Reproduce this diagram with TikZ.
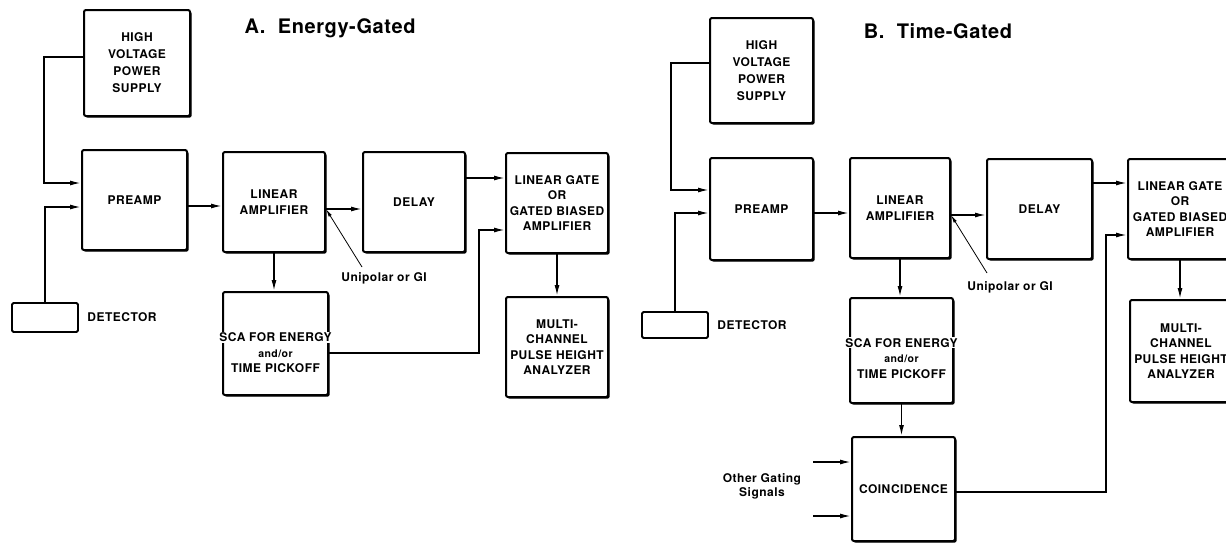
\documentclass[tikz,border=0pt]{standalone}
\usepackage{fontspec}
\setmainfont{TeX Gyre Heros}
\newfontfamily\boxfont[LetterSpace=4]{TeX Gyre Heros}
\newfontfamily\titlefont[LetterSpace=3]{TeX Gyre Heros}
\usepackage{tikz}
\usetikzlibrary{arrows.meta,shadows,positioning}
% a text line that runs over the box border
\newcommand{\spill}[1]{\makebox[60pt]{\setlength\fboxsep{1pt}\colorbox{white}{#1}}}

\begin{document}
\begin{tikzpicture}[x=1pt,y=-1pt,
  blk/.style={draw, line width=2pt, fill=white, rounded corners=2pt,
    minimum height=100pt, inner sep=1pt, align=center,
    font=\boxfont\bfseries\fontsize{12}{15.5}\selectfont,
    drop shadow={shadow xshift=1.6pt, shadow yshift=-1.6pt, fill=black, opacity=1}},
  detbox/.style={draw, line width=1.8pt, rounded corners=1.5pt, minimum width=66pt},
  sig/.style={line width=1.5pt, -{Latex[length=11pt,width=5pt]}},
  ptr/.style={line width=0.8pt, -{Latex[length=8pt,width=3.5pt]}},
  lbl/.style={font=\boxfont\bfseries\fontsize{12}{14}\selectfont, align=center},
  ttl/.style={font=\titlefont\bfseries\fontsize{20}{22}\selectfont}]
  \useasboundingbox (0,0) rectangle (1226,544);
  \def\small{\fontsize{10.5}{11}\selectfont}

  % A. Energy-Gated
  \node[ttl] (ttlA) at (330,28) {A.\ \ Energy-Gated};
  \node[blk, minimum width=106pt, minimum height=106pt] (hvA) at (137,63) {HIGH\\[1.5pt]VOLTAGE\\[1.5pt]POWER\\[1.5pt]SUPPLY};
  \node[blk, minimum width=105pt] (preA) at (134.5,200) {PREAMP};
  \node[blk, minimum width=102pt] (linA) at (274,202) {LINEAR\\AMPLIFIER};
  \node[blk, minimum width=102pt] (dlyA) at (414,202) {DELAY};
  \node[blk, minimum width=102pt] (gateA) at (557,203) {LINEAR GATE\\OR\\GATED BIASED\\AMPLIFIER};
  \node[blk, minimum width=102pt] (mcaA) at (557,347) {MULTI-\\CHANNEL\\PULSE HEIGHT\\ANALYZER};
  \node[blk, minimum width=105pt, minimum height=103pt] (scaA) at (275.5,343.5)
    {\mbox{}\\[12pt]\spill{SCA FOR ENERGY}\\{\small and/or}\\TIME PICKOFF};
  \node[detbox, minimum height=29pt] (detA) at (45,317.5) {};
  \node[lbl, right=5pt of detA] (detAl) {DETECTOR};
  \node[lbl] (uniA) at (384,278) {Unipolar or GI};
  \coordinate (ptA) at (362,267);
  % Signal paths
  \draw[sig] ([yshift=6pt]hvA.west) -- ++(-39,0) |- ([yshift=17pt]preA.west);
  \draw[sig] (detA.north) |- ([yshift=-7pt]preA.west);
  \draw[sig] ([yshift=-6pt]preA.east) -- ([yshift=-4pt]linA.west);
  \draw[sig] ([yshift=-7pt]linA.east) -- ([yshift=-7pt]dlyA.west);
  \draw[ptr] (ptA) -- ([yshift=-7pt]linA.east);
  \draw[sig] ([yshift=24pt]dlyA.east) -- ([yshift=25pt]gateA.west);
  \draw[sig] (linA.south) -- (linA.south |- scaA.north);
  \draw[sig] ([yshift=-9.5pt]scaA.east) -| ([xshift=-26pt,yshift=-27pt]gateA.west) -- ([yshift=-27pt]gateA.west);
  \draw[sig] (gateA.south) -- (gateA.south |- mcaA.north);

  % B. Time-Gated
  \node[ttl] (ttlB) at (938,31) {B.\ \ Time-Gated};
  \node[blk, minimum width=103pt, minimum height=105pt] (hvB) at (761.5,70.5) {HIGH\\[1.5pt]VOLTAGE\\[1.5pt]POWER\\[1.5pt]SUPPLY};
  \node[blk, minimum width=103pt, minimum height=102pt] (preB) at (761.5,209) {PREAMP};
  \node[blk, minimum width=100pt] (linB) at (900,208) {LINEAR\\AMPLIFIER};
  \node[blk, minimum width=105pt] (dlyB) at (1039.5,209) {DELAY};
  \node[blk, minimum width=104pt] (gateB) at (1180,209) {LINEAR GATE\\OR\\GATED BIASED\\AMPLIFIER};
  \node[blk, minimum width=102pt, minimum height=102pt] (mcaB) at (1181,351) {MULTI-\\CHANNEL\\PULSE HEIGHT\\ANALYZER};
  \node[blk, minimum width=103pt, minimum height=105pt] (scaB) at (901.5,350.5)
    {\mbox{}\\[9pt]\spill{SCA FOR ENERGY}\\{\small and/or}\\TIME PICKOFF};
  \node[blk, minimum width=103pt, minimum height=104pt] (coinB) at (903.5,489) {COINCIDENCE};
  \node[detbox, minimum height=26pt] (detB) at (675,325) {};
  \node[lbl, right=5pt of detB] (detBl) {DETECTOR};
  \node[lbl] (uniB) at (1010,287) {Unipolar or GI};
  \node[lbl] (ogl) at (762,486) {Other Gating\\Signals};
  \coordinate (ptB) at (987,273);
  % Signal paths
  \draw[sig] ([yshift=7.5pt]hvB.west) -- ++(-38,0) |- ([yshift=19pt]preB.west);
  \draw[sig] (detB.north) |- ([yshift=-4pt]preB.west);
  \draw[sig] ([yshift=-4pt]preB.east) -- ([yshift=-5pt]linB.west);
  \draw[sig] ([yshift=-7pt]linB.east) -- ([yshift=-6pt]dlyB.west);
  \draw[ptr] (ptB) -- ([yshift=-7pt]linB.east);
  \draw[sig] ([yshift=26pt]dlyB.east) -- ([yshift=26pt]gateB.west);
  \draw[sig] (linB.south) -- (linB.south |- scaB.north);
  \draw[sig] (scaB.south) -- (scaB.south |- coinB.north);
  \draw[sig] ([yshift=-3pt]coinB.east) -| ([xshift=-21pt,yshift=-26pt]gateB.west) -- ([yshift=-26pt]gateB.west);
  \draw[sig] (gateB.south) -- (gateB.south |- mcaB.north);
  % Other gating inputs
  \foreach \k/\y in {1/462, 2/516} {
    \coordinate (og\k) at (813,\y);
    \draw[sig] (og\k) -- (og\k -| coinB.west);
  }
\end{tikzpicture}
\end{document}
